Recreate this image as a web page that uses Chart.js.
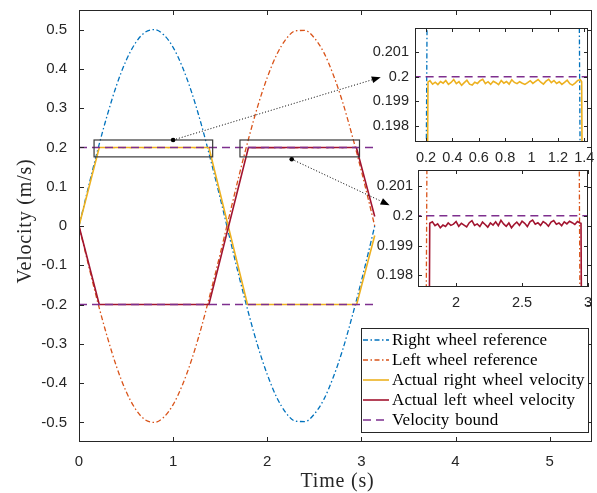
<!DOCTYPE html>
<html>
<head>
<meta charset="utf-8">
<script src="https://cdn.jsdelivr.net/npm/chart.js@4.4.1/dist/chart.umd.min.js"></script>
<style>
  html, body { margin: 0; padding: 0; background: #fff; }
  #wrap { position: relative; width: 597px; height: 493px; overflow: hidden; }
  canvas { position: absolute; }
</style>
</head>
<body>
<div id="wrap">
  <canvas id="main" width="597" height="493" style="left:0;top:0"></canvas>
  <canvas id="zoomR" width="237" height="150" style="left:360px;top:18px"></canvas>
  <canvas id="zoomL" width="237" height="150" style="left:360px;top:160px"></canvas>
</div>
<script>
// reference curves
const refT = [0, 0.1, 0.2, 0.3, 0.4, 0.5, 0.6, 0.7, 0.8, 0.9, 1.0, 1.1, 1.2, 1.3, 1.4, 1.5,
  1.6, 1.7, 1.8, 1.9, 2.0, 2.1, 2.2, 2.3, 2.4, 2.5, 2.6, 2.7, 2.8, 2.9, 3.0, 3.1, 3.1416];
const rightRef = [0, 0.099, 0.195, 0.282, 0.359, 0.421, 0.466, 0.493, 0.5, 0.487, 0.455, 0.404,
  0.338, 0.258, 0.167, 0.071, -0.029, -0.128, -0.221, -0.306, -0.378, -0.436, -0.476, -0.497,
  -0.498, -0.479, -0.442, -0.386, -0.316, -0.232, -0.14, -0.042, 0];
const leftRef = [0, -0.099, -0.195, -0.282, -0.359, -0.421, -0.466, -0.493, -0.5, -0.487, -0.455, -0.404,
  -0.338, -0.258, -0.167, -0.071, 0.029, 0.128, 0.221, 0.306, 0.378, 0.436, 0.476, 0.497,
  0.498, 0.479, 0.442, 0.386, 0.316, 0.232, 0.14, 0.042, 0];

// actual wheel velocities: corner points
const actRightT = [0, 0.215, 1.38, 1.79, 2.95, 3.1416];
const actRightV = [0, 0.19978, 0.1998, -0.1998, -0.1998, -0.024];
const actLeftT = [0, 0.215, 1.38, 1.80, 2.947, 3.1416];
const actLeftV = [0, -0.1998, -0.1998, 0.19975, 0.19975, 0.024];

// ripple on the saturated parts (seen in the two zoom boxes)
const rippleStep = 0.02;
const rightRippleStart = 0.23;
const rightRipple = [0.19984, 0.19970, 0.19978, 0.19968, 0.19981, 0.19974, 0.19985, 0.19969, 0.19977, 0.19989,
  0.19972, 0.19980, 0.19965, 0.19976, 0.19986, 0.19970, 0.19966, 0.19978, 0.19973, 0.19984,
  0.19990, 0.19972, 0.19980, 0.19969, 0.19982, 0.19976, 0.19968, 0.19985, 0.19974, 0.19981,
  0.19970, 0.19988, 0.19977, 0.19972, 0.19980, 0.19974, 0.19969, 0.19976, 0.19984, 0.19973,
  0.19981, 0.19989, 0.19978, 0.19970, 0.19982, 0.19990, 0.19976, 0.19985, 0.19973, 0.19980,
  0.19969, 0.19977, 0.19986, 0.19972, 0.19966, 0.19974, 0.19985, 0.19988];
const leftRippleStart = 1.82;
const leftRipple = [0.19980, 0.19967, 0.19973, 0.19960, 0.19969, 0.19964, 0.19976, 0.19968, 0.19972, 0.19981,
  0.19965, 0.19975, 0.19969, 0.19963, 0.19977, 0.19984, 0.19968, 0.19973, 0.19964, 0.19979,
  0.19971, 0.19962, 0.19976, 0.19969, 0.19980, 0.19967, 0.19985, 0.19973, 0.19965, 0.19976,
  0.19960, 0.19971, 0.19979, 0.19968, 0.19982, 0.19975, 0.19964, 0.19980, 0.19986, 0.19972,
  0.19977, 0.19968, 0.19981, 0.19975, 0.19965, 0.19979, 0.19984, 0.19972, 0.19976, 0.19967,
  0.19980, 0.19973, 0.19982, 0.19977, 0.19971, 0.19981, 0.19976];

const boundT = [0, 3.1416];
const boundUpper = [0.2, 0.2];
const boundLower = [-0.2, -0.2];

const xTicks = [0, 1, 2, 3, 4, 5];
const yTicks = [-0.5, -0.4, -0.3, -0.2, -0.1, 0, 0.1, 0.2, 0.3, 0.4, 0.5];
const zoomYTicks = [0.198, 0.199, 0.2, 0.201];
const zoomRXTicks = [0.2, 0.4, 0.6, 0.8, 1, 1.2, 1.4];
const zoomLXTicks = [2, 2.5, 3];

const legendLabels = ['Right wheel reference', 'Left wheel reference', 'Actual right wheel velocity',
  'Actual left wheel velocity', 'Velocity bound'];

// zoom boxes on the main axes and the arrows to the insets
const boxX0 = [0.16, 1.71];
const boxX1 = [1.42, 2.98];
const boxY0 = 0.176, boxY1 = 0.219;
const arrowFrom = [[1.0, 0.219], [2.26, 0.170]];
const arrowTo = [[3.206, 0.379], [3.30, 0.053]];

const C = { blue: '#0072BD', orange: '#D95319', yellow: '#EDB120', red: '#A2142F', purple: '#7E2F8E', axis: '#262626' };
const DASHDOT = [5, 2.5, 1.5, 2.5];
const DASH = [8, 5];

const pts = (T, V) => T.map((t, i) => ({ x: t, y: V[i] }));
const withRipple = (T, V, after, start, ripple) => {
  const p = pts(T, V);
  const r = ripple.map((v, i) => ({ x: +(start + i * rippleStep).toFixed(3), y: v }));
  p.splice(after + 1, 0, ...r);
  return p;
};

const makeDatasets = (clip) => {
  const base = { pointRadius: 0, fill: false, clip: clip };
  return [
    { ...base, data: pts(refT, rightRef), borderColor: C.blue, borderWidth: 1.3, borderDash: DASHDOT, cubicInterpolationMode: 'monotone', order: 5 },
    { ...base, data: pts(refT, leftRef), borderColor: C.orange, borderWidth: 1.3, borderDash: DASHDOT, cubicInterpolationMode: 'monotone', order: 4 },
    { ...base, data: withRipple(actRightT, actRightV, 1, rightRippleStart, rightRipple), borderColor: C.yellow, borderWidth: 1.6, order: 3 },
    { ...base, data: withRipple(actLeftT, actLeftV, 3, leftRippleStart, leftRipple), borderColor: C.red, borderWidth: 1.6, order: 2 },
    { ...base, data: pts(boundT, boundUpper), borderColor: C.purple, borderWidth: 1.5, borderDash: DASH, order: 1 },
    { ...base, data: pts(boundT, boundLower), borderColor: C.purple, borderWidth: 1.5, borderDash: DASH, order: 1 }
  ];
};

const fmt = (v) => String(parseFloat(Number(v).toFixed(3)));

const whiteArea = {
  id: 'whiteArea',
  beforeDraw(chart) {
    const a = chart.chartArea, ctx = chart.ctx;
    ctx.save();
    ctx.fillStyle = '#fff';
    ctx.fillRect(a.left, a.top, a.right - a.left, a.bottom - a.top);
    ctx.restore();
  }
};

// MATLAB-like box with inward ticks
const frame = (len) => ({
  id: 'frame',
  afterDatasetsDraw(chart) {
    const { ctx, chartArea: a, scales: { x, y } } = chart;
    ctx.save();
    ctx.strokeStyle = C.axis;
    ctx.lineWidth = 1;
    ctx.setLineDash([]);
    ctx.strokeRect(Math.round(a.left) + 0.5, Math.round(a.top) + 0.5,
      Math.round(a.right - a.left) - 1, Math.round(a.bottom - a.top) - 1);
    ctx.beginPath();
    x.ticks.forEach((t) => {
      const px = Math.round(x.getPixelForValue(t.value)) + 0.5;
      ctx.moveTo(px, a.bottom); ctx.lineTo(px, a.bottom - len);
      ctx.moveTo(px, a.top); ctx.lineTo(px, a.top + len);
    });
    y.ticks.forEach((t) => {
      const py = Math.round(y.getPixelForValue(t.value)) + 0.5;
      ctx.moveTo(a.left, py); ctx.lineTo(a.left + len, py);
      ctx.moveTo(a.right, py); ctx.lineTo(a.right - len, py);
    });
    ctx.stroke();
    ctx.restore();
  }
});

const mainDecor = {
  id: 'mainDecor',
  afterDraw(chart) {
    const { ctx, chartArea: a, scales: { x, y } } = chart;
    ctx.save();

    // zoom boxes
    ctx.strokeStyle = '#3a3a3a';
    ctx.lineWidth = 1.2;
    boxX0.forEach((x0, i) => {
      const l = x.getPixelForValue(x0), r = x.getPixelForValue(boxX1[i]);
      const t = y.getPixelForValue(boxY1), b = y.getPixelForValue(boxY0);
      ctx.strokeRect(l, t, r - l, b - t);
    });

    // dotted arrows
    arrowFrom.forEach((f, i) => {
      const x0 = x.getPixelForValue(f[0]), y0 = y.getPixelForValue(f[1]);
      const x1 = x.getPixelForValue(arrowTo[i][0]), y1 = y.getPixelForValue(arrowTo[i][1]);
      const ang = Math.atan2(y1 - y0, x1 - x0);
      const head = 9;
      ctx.strokeStyle = '#000';
      ctx.lineWidth = 1;
      ctx.setLineDash([1, 2]);
      ctx.beginPath();
      ctx.moveTo(x0, y0);
      ctx.lineTo(x1 - head * Math.cos(ang), y1 - head * Math.sin(ang));
      ctx.stroke();
      ctx.setLineDash([]);
      ctx.fillStyle = '#000';
      ctx.beginPath();
      ctx.arc(x0, y0, 2.3, 0, Math.PI * 2);
      ctx.fill();
      ctx.beginPath();
      ctx.moveTo(x1, y1);
      ctx.lineTo(x1 - head * Math.cos(ang) + 3.5 * Math.sin(ang), y1 - head * Math.sin(ang) - 3.5 * Math.cos(ang));
      ctx.lineTo(x1 - head * Math.cos(ang) - 3.5 * Math.sin(ang), y1 - head * Math.sin(ang) + 3.5 * Math.cos(ang));
      ctx.closePath();
      ctx.fill();
    });

    // legend
    const lx = 361.5, ly = 328.5, lw = 227, lh = 104;
    ctx.fillStyle = '#fff';
    ctx.fillRect(lx, ly, lw, lh);
    ctx.strokeStyle = C.axis;
    ctx.lineWidth = 1;
    ctx.strokeRect(lx, ly, lw, lh);
    const ds = chart.data.datasets;
    ctx.font = '17px "Liberation Serif"';
    ctx.letterSpacing = '0.1px';
    ctx.wordSpacing = '1.5px';
    ctx.textAlign = 'left';
    ctx.textBaseline = 'alphabetic';
    legendLabels.forEach((lab, i) => {
      const d = ds[i];
      const cy = 340 + i * 20;
      ctx.strokeStyle = d.borderColor;
      ctx.lineWidth = d.borderWidth;
      ctx.setLineDash(d.borderDash || []);
      ctx.beginPath();
      ctx.moveTo(363, cy);
      ctx.lineTo(389, cy);
      ctx.stroke();
      ctx.setLineDash([]);
      ctx.fillStyle = '#000';
      ctx.fillText(lab, 392, cy + 4.5);
    });

    // axis titles
    ctx.fillStyle = C.axis;
    ctx.font = '20px "Liberation Serif"';
    ctx.letterSpacing = '0.8px';
    ctx.wordSpacing = '0px';
    ctx.textAlign = 'center';
    ctx.fillText('Time (s)', (a.left + a.right) / 2 + 2, 487);
    ctx.translate(31, 221);
    ctx.rotate(-Math.PI / 2);
    ctx.fillText('Velocity (m/s)', 0, 0);
    ctx.letterSpacing = '0px';
    ctx.restore();
  }
};

const axisOpts = (min, max, ticks, fit, pad, size) => ({
  type: 'linear', min: min, max: max,
  afterBuildTicks: (s) => { s.ticks = ticks.map((v) => ({ value: v })); },
  afterFit: (s) => {
    fit(s);
    // keep label overflow from moving the plot box
    s.paddingTop = 0; s.paddingBottom = 0; s.paddingLeft = 0; s.paddingRight = 0;
  },
  grid: { display: false, drawTicks: false },
  border: { display: false },
  ticks: { padding: pad, color: C.axis, autoSkip: false, maxRotation: 0, callback: fmt,
    font: { family: 'Liberation Sans', size: size } }
});

new Chart(document.getElementById('main'), {
  type: 'line',
  data: { datasets: makeDatasets(undefined) },
  options: {
    responsive: false, animation: false, devicePixelRatio: 1, events: [],
    layout: { padding: { top: 10, right: 5, left: 0, bottom: 0 } },
    plugins: { legend: { display: false }, tooltip: { enabled: false } },
    scales: {
      x: axisOpts(0, 5.45, xTicks, (s) => { s.height = 51; }, 11, 15),
      y: axisOpts(-0.55, 0.55, yTicks, (s) => { s.width = 79; }, 12, 15)
    }
  },
  plugins: [frame(5), mainDecor]
});

const makeInset = (id, xmin, xmax, ymin, ymax, xt, yw, xh, ypad) => new Chart(document.getElementById(id), {
  type: 'line',
  data: { datasets: makeDatasets(0) },
  options: {
    responsive: false, animation: false, devicePixelRatio: 1, events: [],
    layout: { padding: { top: 10, right: 9, left: 0, bottom: 0 } },
    plugins: { legend: { display: false }, tooltip: { enabled: false } },
    scales: {
      x: axisOpts(xmin, xmax, xt, (s) => { s.height = xh; }, 7, 14.5),
      y: axisOpts(ymin, ymax, zoomYTicks, (s) => { s.width = yw; }, ypad, 14.5)
    }
  },
  plugins: [whiteArea, frame(4)]
});

makeInset('zoomR', 0.1165, 1.428, 0.19733, 0.202, zoomRXTicks, 55, 26, 6);
makeInset('zoomL', 1.711, 3.0, 0.19761, 0.20154, zoomLXTicks, 58, 23, 5);
</script>
</body>
</html>
